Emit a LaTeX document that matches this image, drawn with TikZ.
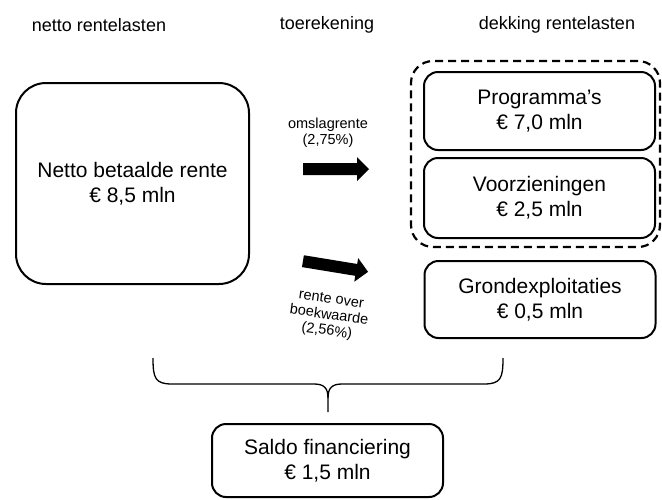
\documentclass[tikz,border=0pt]{standalone}
\usepackage{fontspec}
\setmainfont{Liberation Sans}
\begin{document}
\begin{tikzpicture}[x=1pt,y=-1pt,
  box/.style={draw=black,line width=2pt,rounded corners=14pt,align=center,inner sep=0pt,
    font=\fontsize{21}{25}\selectfont},
  header/.style={font=\fontsize{18}{21}\selectfont,inner sep=0pt},
  lbl/.style={font=\fontsize{14.5}{16}\selectfont,align=center,inner sep=0pt},
  groupbox/.style={draw=black,line width=2.2pt,dash pattern=on 8pt off 5pt,rounded corners=22pt},
  blockarrow/.style={fill=black},
  bracestyle/.style={draw=black,line width=1.3pt}
]
\useasboundingbox (0,0) rectangle (662,499);

% headers
\node[header] (h1) at (99,25) {netto rentelasten};
\node[header] (h2) at (327,25) {toerekening};
\node[header] (h3) at (557,25) {dekking rentelasten};

% main boxes
\node[box,rounded corners=30pt,minimum width=233pt,minimum height=201pt] (netto) at (132.5,183.5)
  {Netto betaalde rente\\€ 8,5 mln};

\node[groupbox,minimum width=249pt,minimum height=186pt] (group) at (535.5,154) {};

\node[box,minimum width=231pt,minimum height=78pt] (prog) at (539.5,111) {Programma’s\\€ 7,0 mln};
\node[box,minimum width=231pt,minimum height=80pt] (voorz) at (539.5,198) {Voorzieningen\\€ 2,5 mln};
\node[box,minimum width=231pt,minimum height=77pt] (grond) at (540,299.5) {Grondexploitaties\\€ 0,5 mln};
\node[box,minimum width=231pt,minimum height=73pt] (saldo) at (327.5,460.5) {Saldo financiering\\€ 1,5 mln};

% arrows with labels
\coordinate (a1) at (336,169);
\fill[blockarrow,shift={(a1)}] (-33,-6) -- (21,-6) -- (21,-12) -- (33,0) -- (21,12) -- (21,6) -- (-33,6) -- cycle;
\node[lbl] (l1) at (328,133) {omslagrente\\(2,75\%)};

\coordinate (a2) at (335.5,266.5);
\fill[blockarrow,shift={(a2)},rotate=-9.3] (-33,-6) -- (21,-6) -- (21,-12) -- (33,0) -- (21,12) -- (21,6) -- (-33,6) -- cycle;
\node[lbl,rotate=-8] (l2) at (329,316) {rente over\\boekwaarde\\(2,56\%)};

% brace
\coordinate (bl) at (153,358);
\coordinate (br) at (503,358);
\coordinate (bt) at (328,412);
\draw[bracestyle] (bl) .. controls (153,378) and (155,384) .. (172,384) -- (314,384)
  .. controls (324,384) and (328,388) .. (328,398) -- (bt);
\draw[bracestyle] (br) .. controls (503,378) and (501,384) .. (484,384) -- (342,384)
  .. controls (332,384) and (328,388) .. (328,398);
\end{tikzpicture}
\end{document}
